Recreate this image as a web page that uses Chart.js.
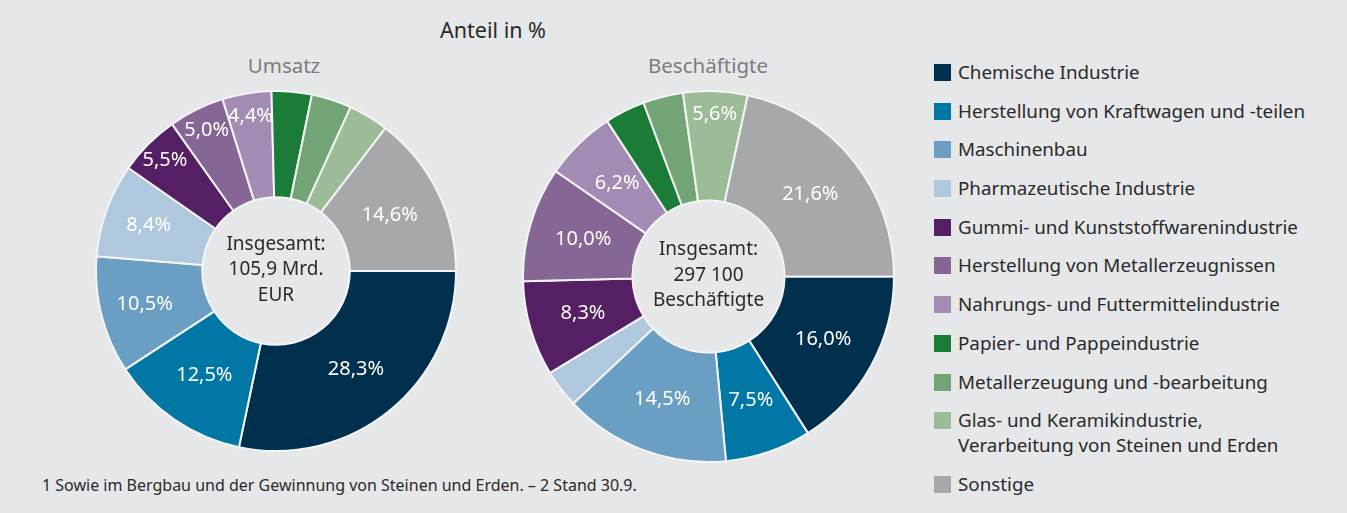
<!DOCTYPE html>
<html><head><meta charset="utf-8">
<script src="https://cdn.jsdelivr.net/npm/chart.js@4/dist/chart.umd.min.js"></script>
<style>
html,body{margin:0;padding:0;background:#e6e7e9;width:1347px;height:513px;overflow:hidden;font-family:"Noto Sans",sans-serif;color:#2a2a2a}
.abs{position:absolute}
#title{left:0;width:986px;top:17px;text-align:center;font-size:21.5px;line-height:26px}
.sub{font-size:20.5px;line-height:26px;color:#7b7c7f;text-align:center;width:300px;top:52px}
#legend{left:934px;top:60px;margin:0;padding:0;list-style:none}
#legend li{position:relative;padding-left:24px;font-size:18.8px;line-height:25px;margin-bottom:13.7px;white-space:nowrap}
#legend li span.sw{position:absolute;left:0;top:4px;width:17px;height:17px}
#foot{left:42px;top:475px;font-size:16px;line-height:20px}
</style></head><body>
<div id="title" class="abs">Anteil in %</div>
<div class="abs sub" style="left:134px">Umsatz</div>
<div class="abs sub" style="left:558px">Beschäftigte</div>
<canvas id="c1" class="abs" width="362" height="362" style="left:95px;top:90px"></canvas>
<canvas id="c2" class="abs" width="373" height="373" style="left:522px;top:90px"></canvas>
<ul id="legend" class="abs"></ul>
<div id="foot" class="abs">1 Sowie im Bergbau und der Gewinnung von Steinen und Erden. – 2 Stand 30.9.</div>
<script>
const categories = [
  "Chemische Industrie",
  "Herstellung von Kraftwagen und -teilen",
  "Maschinenbau",
  "Pharmazeutische Industrie",
  "Gummi- und Kunststoffwarenindustrie",
  "Herstellung von Metallerzeugnissen",
  "Nahrungs- und Futtermittelindustrie",
  "Papier- und Pappeindustrie",
  "Metallerzeugung und -bearbeitung",
  "Glas- und Keramikindustrie,\nVerarbeitung von Steinen und Erden",
  "Sonstige"
];
const colors = ["#00304e","#0077a5","#6a9ec3","#afc8dd","#551f63","#856694","#a38cb4","#1a7c36","#73a475","#9cbc97","#a7a8ab"];
const umsatzValues = [28.3,12.5,10.5,8.4,5.5,5.0,4.4,3.6,3.6,3.6,14.6];
const beschaeftigteValues = [16.0,7.5,14.5,3.3,8.3,10.0,6.2,3.5,3.5,5.6,21.6];
const umsatzCenter = ["Insgesamt:","105,9 Mrd.","EUR"];
const beschaeftigteCenter = ["Insgesamt:","297 100","Beschäftigte"];
const labelMin = 4;

// legend
const ul = document.getElementById('legend');
categories.forEach((c,i)=>{
  const li = document.createElement('li');
  const sw = document.createElement('span'); sw.className='sw'; sw.style.background=colors[i];
  li.appendChild(sw);
  c.split('\n').forEach((t,k)=>{ if(k) li.appendChild(document.createElement('br')); li.appendChild(document.createTextNode(t)); });
  ul.appendChild(li);
});

const sliceLabels = {
  id:'sliceLabels',
  afterDatasetsDraw(chart, args, opts){
    const ctx = chart.ctx;
    const meta = chart.getDatasetMeta(0);
    const data = chart.data.datasets[0].data;
    ctx.save();
    ctx.textAlign = 'center';
    ctx.textBaseline = 'middle';
    ctx.font = '20px "Noto Sans"';
    ctx.fillStyle = '#ffffff';
    meta.data.forEach((arc,i)=>{
      const v = data[i];
      if (v < labelMin) return;
      const p = arc.getProps(['x','y','startAngle','endAngle','innerRadius','outerRadius'], true);
      const f = opts.frac(v);
      const r = p.innerRadius + f*(p.outerRadius - p.innerRadius);
      const a = (p.startAngle + p.endAngle)/2;
      ctx.fillText(v.toFixed(1).replace('.',',')+'%', p.x + r*Math.cos(a), p.y + r*Math.sin(a));
    });
    const a0 = meta.data[0];
    ctx.font = '19px "Noto Sans"';
    ctx.fillStyle = '#2a2a2a';
    opts.lines.forEach((l,k)=>ctx.fillText(l, a0.x, a0.y + (k-1)*25.5 - 1));
    ctx.restore();
  }
};

function makeChart(id, values, lines, frac){
  return new Chart(document.getElementById(id), {
    type:'doughnut',
    data:{ labels: categories, datasets:[{ data: values, backgroundColor: colors, borderColor:'#f4f4f5', borderWidth:2, hoverOffset:0 }] },
    options:{
      responsive:false, animation:false, rotation:90, cutout:'41%',
      layout:{padding:0},
      plugins:{ legend:{display:false}, tooltip:{enabled:false}, sliceLabels:{ lines, frac } }
    },
    plugins:[sliceLabels]
  });
}
makeChart('c1', umsatzValues, umsatzCenter, v => v < 6 ? 0.78 : (v < 11 ? 0.58 : 0.5));
makeChart('c2', beschaeftigteValues, beschaeftigteCenter, v => v < 6 ? 0.79 : 0.5);
</script>
</body></html>
